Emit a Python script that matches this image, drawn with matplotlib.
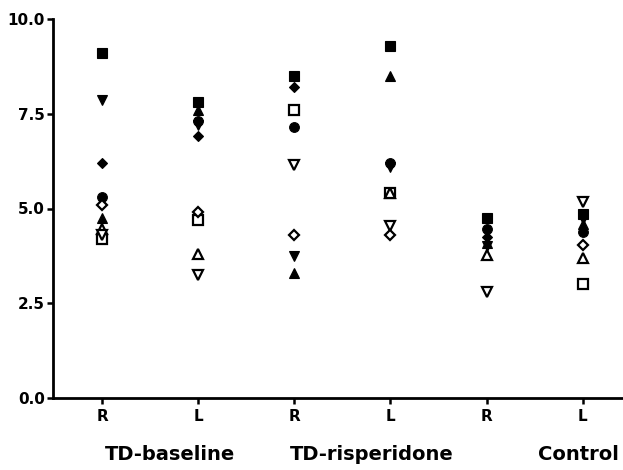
import numpy as np
import matplotlib
matplotlib.use("Agg")
import matplotlib.pyplot as plt

plt.rcParams['font.family'] = ['DejaVu Sans']

positions = [1, 2, 3, 4, 5, 6]
tick_labels = ["R", "L", "R", "L", "R", "L"]
groups = ["TD-baseline", "TD-risperidone", "Control"]
nan = np.nan

# one series per subject symbol, values at the six positions
sq_filled = [9.1, 7.8, 8.5, 9.3, 4.75, 4.85]
tri_up_filled = [4.75, 7.6, 3.3, 8.5, 4.1, 4.6]
tri_down_filled = [7.85, 7.2, 3.75, 6.1, 4.0, 4.72]
diamond_filled = [6.2, 6.9, 8.2, nan, 4.25, nan]
circle_filled = [5.3, 7.3, 7.15, 6.2, 4.45, 4.38]
sq_open = [4.2, 4.7, 7.6, 5.4, nan, 3.0]
tri_up_open = [4.45, 3.8, nan, 5.4, 3.78, 3.7]
tri_down_open = [4.3, 3.25, 6.15, 4.55, 2.8, 5.18]
diamond_open = [5.1, 4.9, 4.3, 4.3, nan, 4.05]

series = [
    (sq_filled, 's', True),
    (tri_up_filled, '^', True),
    (tri_down_filled, 'v', True),
    (diamond_filled, 'D', True),
    (circle_filled, 'o', True),
    (sq_open, 's', False),
    (tri_up_open, '^', False),
    (tri_down_open, 'v', False),
    (diamond_open, 'D', False),
]

fig = plt.figure(figsize=(6.23, 4.70), dpi=100)
ax = fig.add_axes([53/623, 72/470, 1 - 53/623, (398 - 19)/470])

for vals, m, filled in series:
    ms = 5.5 if m == 'D' else 7
    if filled:
        ax.plot(positions, vals, linestyle='none', marker=m, markersize=ms,
                markerfacecolor='black', markeredgecolor='black', markeredgewidth=0.8)
    else:
        ax.plot(positions, vals, linestyle='none', marker=m, markersize=ms,
                markerfacecolor='white', markeredgecolor='black', markeredgewidth=1.6)

ax.set_xlim(0.49, 6.42)
ax.set_ylim(0, 10)
ax.set_yticks([0, 2.5, 5, 7.5, 10])
ax.set_yticklabels(["0.0", "2.5", "5.0", "7.5", "10.0"], fontsize=11, fontweight='bold')
ax.set_xticks(positions)
ax.set_xticklabels(tick_labels, fontsize=11, fontweight='bold')
ax.spines['top'].set_visible(False)
ax.spines['right'].set_visible(False)
for s in ['left', 'bottom']:
    ax.spines[s].set_linewidth(2.0)
ax.tick_params(axis='both', direction='out', length=4, width=1.8)
ax.tick_params(axis='x', pad=4)
ax.tick_params(axis='y', pad=2)

group_x = [1.71, 3.81, 5.96]
for gx, g in zip(group_x, groups):
    ax.text(gx, -1.5, g, ha='center', va='center', fontsize=14, fontweight='bold',
            transform=ax.transData, clip_on=False)

fig.savefig("out.png", dpi=100)
